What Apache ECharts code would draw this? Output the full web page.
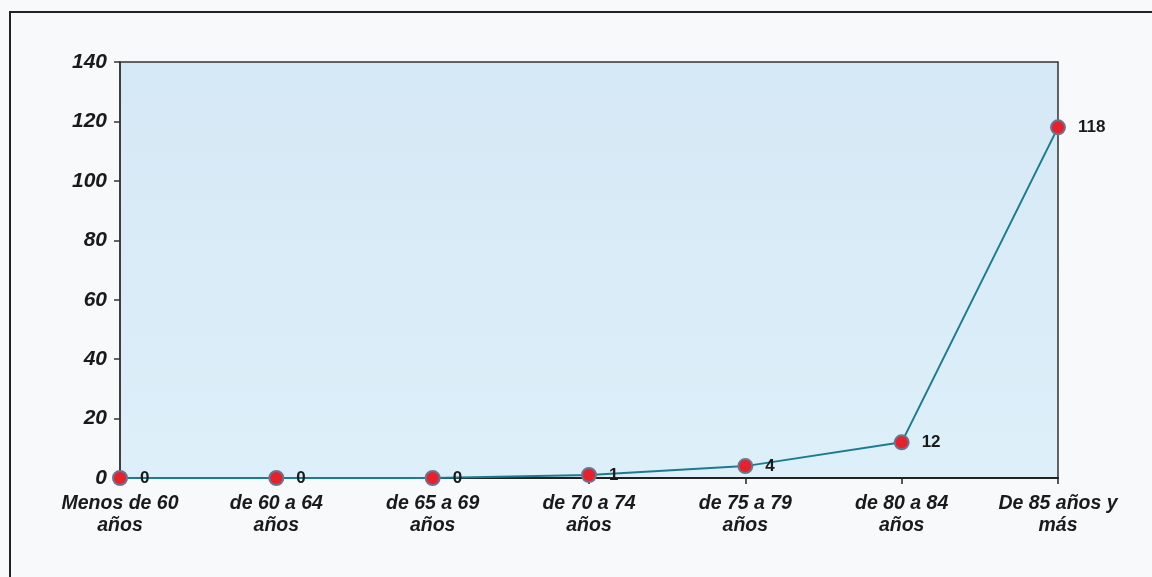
<!DOCTYPE html>
<html>
<head>
<meta charset="utf-8">
<script src="https://cdn.jsdelivr.net/npm/echarts@6/dist/echarts.min.js"></script>
<style>
html,body{margin:0;padding:0;background:#f8f9fa;}
#frame{position:absolute;left:9px;top:11px;width:1160px;height:600px;border-left:2px solid #222;border-top:2px solid #222;}
#chart{position:absolute;left:0;top:0;width:1152px;height:577px;}
</style>
</head>
<body>
<div id="frame"></div>
<div id="chart"></div>
<script>
var categories = ['Menos de 60\naños','de 60 a 64\naños','de 65 a 69\naños','de 70 a 74\naños','de 75 a 79\naños','de 80 a 84\naños','De 85 años y\nmás'];
var values = [0, 0, 0, 1, 4, 12, 118];
var yMin = 0, yMax = 140, yStep = 20;

var chart = echarts.init(document.getElementById('chart'), null, {renderer:'canvas'});
chart.setOption({
  animation:false,
  grid:{left:120, top:62, right:94, bottom:99, show:true,
    backgroundColor:{type:'linear',x:0,y:0,x2:0,y2:1,colorStops:[{offset:0,color:'#d5e8f5'},{offset:1,color:'#ddeff9'}]},
    borderColor:'#333', borderWidth:1.5},
  xAxis:{type:'category', data:categories, boundaryGap:false,
    axisLine:{lineStyle:{color:'#222', width:2}},
    axisTick:{show:true, length:6, lineStyle:{color:'#222', width:1.5}},
    axisLabel:{color:'#1a1a1a', fontFamily:'Liberation Sans, Arial', fontWeight:'bold', fontStyle:'italic', fontSize:19.5, lineHeight:22, margin:15, interval:0},
    splitLine:{show:false}},
  yAxis:{type:'value', min:yMin, max:yMax, interval:yStep,
    axisLine:{show:true, lineStyle:{color:'#333', width:1.5}},
    axisTick:{show:true, length:6, lineStyle:{color:'#333', width:1.5}},
    axisLabel:{color:'#1a1a1a', fontFamily:'Liberation Sans, Arial', fontWeight:'bold', fontStyle:'italic', fontSize:21, margin:13},
    splitLine:{show:false}},
  series:[{type:'line', data:values, symbol:'circle', symbolSize:14,
    lineStyle:{color:'#1b7c8e', width:2},
    itemStyle:{color:'#e8202a', borderColor:'#6a7390', borderWidth:2},
    label:{show:true, position:'right', distance:12, color:'#1a1a1a', fontFamily:'Liberation Sans, Arial', fontWeight:'bold', fontSize:17}
  }]
});
</script>
</body>
</html>
